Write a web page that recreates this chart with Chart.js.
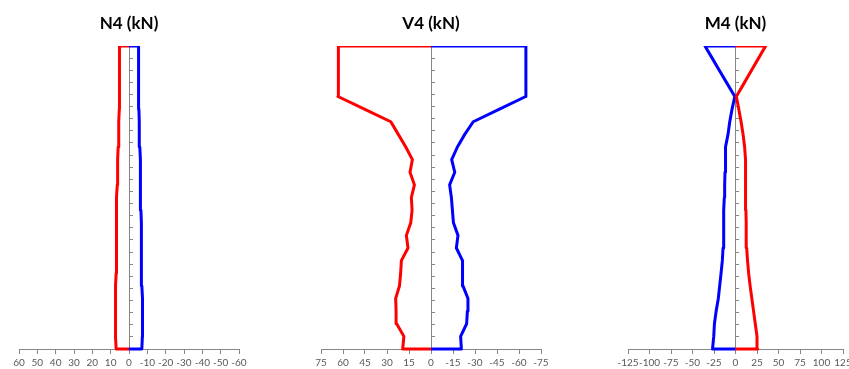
<!DOCTYPE html>
<html><head><meta charset="utf-8">
<script src="https://cdn.jsdelivr.net/npm/chart.js@4/dist/chart.umd.min.js"></script>
<style>
html,body{margin:0;padding:0;background:#fff;overflow:hidden;width:849px;height:369px;position:relative;}
.c{position:absolute;top:0;height:369px;}
canvas{display:block;}
</style></head><body>
<div class="c" style="left:0;width:258px"><canvas id="n4" width="258" height="369"></canvas></div>
<div class="c" style="left:302px;width:258px"><canvas id="v4" width="258" height="369"></canvas></div>
<div class="c" style="left:609px;width:253px"><canvas id="m4" width="253" height="369"></canvas></div>
<script>
// storey levels (bottom to top)
const levels = [0,1,2,3,4,5,6,7,8,9,10,11,12,13,14,15,16,17,18,19,20,21,22,23,24];

// N4 (kN)
const n4Red  = [7.0,7.4,7.5,7.5,7.3,7.1,7.0,7.0,6.9,6.9,6.8,6.7,6.6,6.4,6.3,6.1,5.9,5.7,5.5,5.3,5.2,5.2,5.2,5.2,5.2];
const n4Blue = [-7.0,-7.3,-7.5,-7.4,-7.2,-7.0,-6.9,-6.8,-6.8,-6.7,-6.6,-6.5,-6.4,-6.3,-6.2,-6.0,-5.9,-5.7,-5.5,-5.4,-5.3,-5.2,-5.2,-5.2,-5.2];

// V4 (kN)
const v4Red  = [19.3,18.5,23.4,23.8,24.1,21.5,20.7,20.2,15.7,16.8,13.8,12.9,13.4,11.3,14.3,12.7,17.2,22.3,27.4,45.4,63.4,63.3,63.2,63.1,63.0];
const v4Blue = [-20.7,-20.2,-24.3,-24.8,-25.2,-21.8,-21.6,-21.4,-17.3,-18.4,-15.3,-14.6,-13.9,-12.7,-16.2,-14.1,-18.0,-23.0,-28.8,-46.7,-64.6,-64.7,-64.7,-64.7,-64.7];

// M4 (kN)
const m4Red  = [25.8,25.0,23.0,21.0,19.0,17.0,15.3,14.0,13.0,12.6,12.3,12.1,12.0,11.8,11.6,11.3,10.6,8.8,6.5,3.8,1.0,9.5,18.0,26.5,35.0];
const m4Blue = [-26.7,-25.3,-24.5,-22.5,-20.0,-18.4,-16.8,-15.3,-14.5,-14.1,-13.7,-13.4,-13.0,-12.6,-12.2,-11.8,-11.4,-8.7,-6.7,-4.0,-0.8,-9.5,-18.2,-26.8,-35.5];

// x-axis tick settings
const n4Axis = {min:-60, max:60, step:10, reverse:true};
const v4Axis = {min:-75, max:75, step:15, reverse:true};
const m4Axis = {min:-125, max:125, step:25, reverse:false};

const AXIS_GRAY = '#868686';
Chart.defaults.font.family = 'Lato, "Open Sans", sans-serif';

function profile(values){
  return [{x:0, y:levels[0]}]
    .concat(values.map((v,i)=>({x:v, y:levels[i]})))
    .concat([{x:0, y:levels[levels.length-1]}]);
}

function makeChart(id, title, red, blue, ax){
  const ds = (data, color) => ({
    data: profile(data), showLine:true, borderColor:color, backgroundColor:color,
    borderWidth:3, borderJoinStyle:'round', pointRadius:0, pointHoverRadius:0, tension:0, fill:false,
    clip:{top:0, left:false, right:false, bottom:false}
  });
  new Chart(document.getElementById(id), {
    type:'scatter',
    data:{datasets:[ds(red,'#FF0000'), ds(blue,'#0000FF')]},
    options:{
      responsive:false, animation:false, devicePixelRatio:1,
      layout:{padding:{left:19, right:19, top:0, bottom:0}},
      plugins:{
        legend:{display:false}, tooltip:{enabled:false},
        title:{display:true, text:title, color:'#000',
          font:{size:17, weight:'bold', family:'Lato'}, padding:{top:13, bottom:12.6}}
      },
      scales:{
        x:{type:'linear', position:'bottom', min:ax.min, max:ax.max, reverse:ax.reverse,
          afterFit:(s)=>{s.height=20;},
          border:{display:true, color:AXIS_GRAY, width:1},
          grid:{drawOnChartArea:false, drawTicks:true, tickLength:5, color:AXIS_GRAY},
          ticks:{stepSize:ax.step, color:'#595959', font:{size:10}, padding:3, maxRotation:0, autoSkip:false}
        },
        y:{type:'linear', min:0, max:levels[levels.length-1], position:{x:0},
          afterFit:(s)=>{s.width=0;},
          border:{display:true, color:AXIS_GRAY, width:1},
          grid:{drawOnChartArea:false, drawTicks:true, tickLength:-4, color:AXIS_GRAY},
          ticks:{display:false, count:26}
        }
      }
    }
  });
}

makeChart('n4','N4 (kN)', n4Red, n4Blue, n4Axis);
makeChart('v4','V4 (kN)', v4Red, v4Blue, v4Axis);
makeChart('m4','M4 (kN)', m4Red, m4Blue, m4Axis);
</script>
</body></html>
